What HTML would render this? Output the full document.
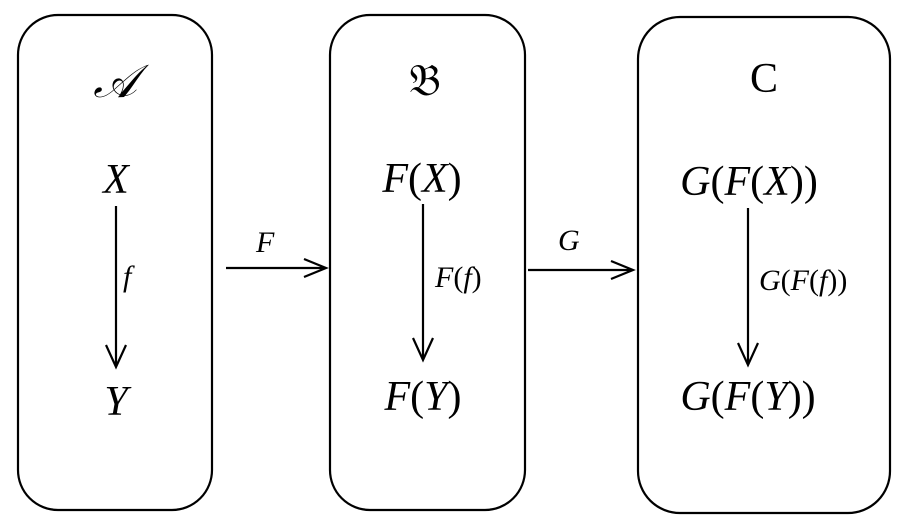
<!DOCTYPE html>
<html><head><style>html,body{margin:0;padding:0;background:#fff}</style></head><body>
<svg width="907" height="525" xmlns="http://www.w3.org/2000/svg" font-family="Liberation Serif, serif">
<g fill="none" stroke="#000" stroke-width="2.2">
<rect x="18" y="15" width="194" height="495" rx="40"/>
<rect x="330" y="15" width="195" height="495" rx="40"/>
<rect x="638" y="17" width="252" height="496" rx="42"/>
<path d="M116 206V367M106 345L116 367L126 345"/>
<path d="M423 204V360M413 338L423 360L433 338"/>
<path d="M748 208V365M738 343L748 365L758 343"/>
<path d="M226 268H326M304 259L326 268L304 277"/>
<path d="M528 270H633M611 261L633 270L611 279"/>
</g>
<g fill="#000" font-size="42" text-anchor="middle">
<text x="115" y="97" font-size="46" font-style="italic">𝒜</text>
<text x="425" y="95" font-size="44">𝔅</text>
<text x="764" y="92">C</text>
<text x="116" y="193" font-style="italic">X</text>
<text x="116" y="415" font-style="italic">Y</text>
<text x="422" y="192"><tspan font-style="italic">F</tspan>(<tspan font-style="italic">X</tspan>)</text>
<text x="423" y="410"><tspan font-style="italic">F</tspan>(<tspan font-style="italic">Y</tspan>)</text>
<text x="749" y="195"><tspan font-style="italic">G</tspan>(<tspan font-style="italic">F</tspan>(<tspan font-style="italic">X</tspan>))</text>
<text x="748" y="410"><tspan font-style="italic">G</tspan>(<tspan font-style="italic">F</tspan>(<tspan font-style="italic">Y</tspan>))</text>
</g>
<g fill="#000" font-size="30">
<text x="123" y="286" font-style="italic">f</text>
<text x="256" y="252" font-style="italic">F</text>
<text x="558" y="250" font-style="italic">G</text>
<text x="435" y="287"><tspan font-style="italic">F</tspan>(<tspan font-style="italic">f</tspan>)</text>
<text x="759" y="290"><tspan font-style="italic">G</tspan>(<tspan font-style="italic">F</tspan>(<tspan font-style="italic">f</tspan>))</text>
</g>
</svg>
</body></html>
